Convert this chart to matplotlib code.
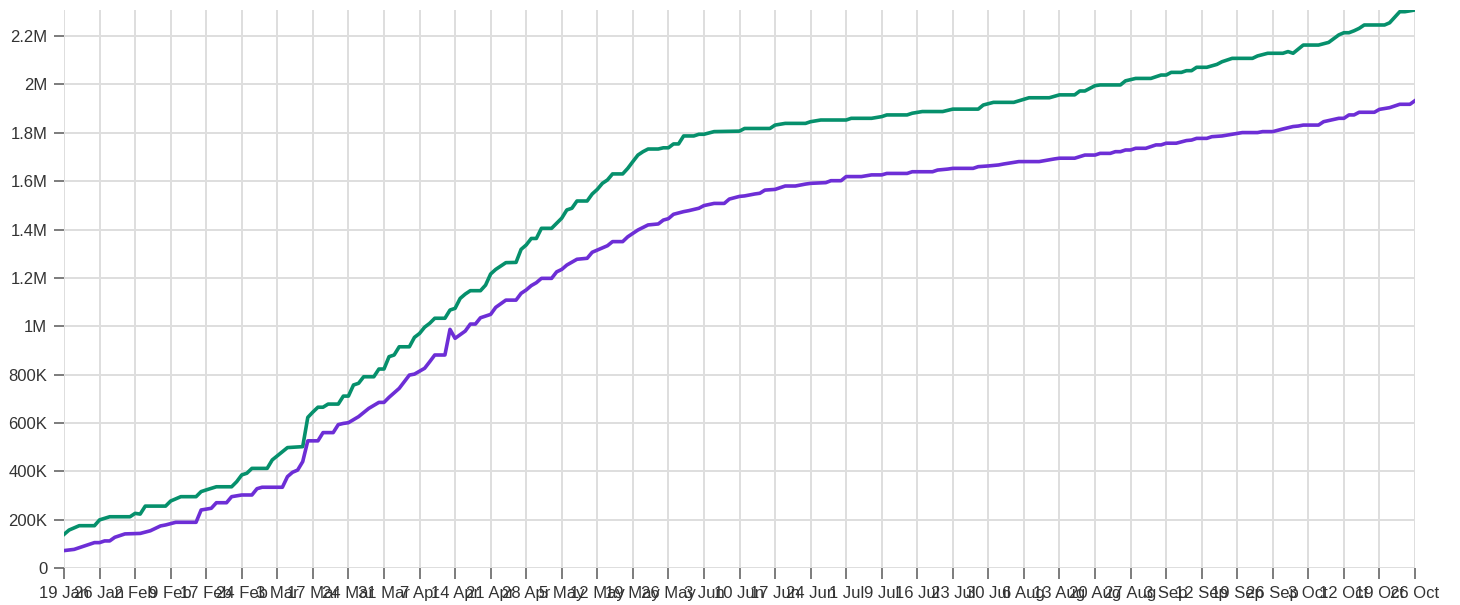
import matplotlib
matplotlib.use("Agg")
import matplotlib.pyplot as plt
from matplotlib.ticker import FuncFormatter

# ── Datos ─────────────────────────────────────────────────────────────────────
# eje x: índice de punto (un punto por día de la serie, etiqueta cada 7 puntos)
tick_labels = [
    "19 Jan", "26 Jan", "2 Feb", "9 Feb", "17 Feb", "24 Feb", "3 Mar",
    "17 Mar", "24 Mar", "31 Mar", "7 Apr", "14 Apr", "21 Apr", "28 Apr",
    "5 May", "12 May", "19 May", "26 May", "3 Jun", "10 Jun", "17 Jun",
    "24 Jun", "1 Jul", "9 Jul", "16 Jul", "23 Jul", "30 Jul", "6 Aug",
    "13 Aug", "20 Aug", "27 Aug", "3 Sep", "12 Sep", "19 Sep", "26 Sep",
    "3 Oct", "12 Oct", "19 Oct", "26 Oct",
]

# serie verde (miles)
verde_x = [0, 1, 3, 6, 7, 9, 13, 14, 15, 16, 20, 21, 23, 26, 27, 28, 30, 33,
           34, 35, 36, 37, 40, 41, 43, 44, 47, 48, 49, 50, 51, 52, 54, 55, 56,
           57, 58, 59, 61, 62, 63, 64, 65, 66, 68, 69, 70, 71, 72, 73, 75, 76,
           77, 78, 79, 80, 82, 83, 84, 85, 87, 89, 90, 91, 92, 93, 94, 96, 97,
           98, 99, 100, 101, 103, 104, 105, 106, 107, 108, 110, 111, 112, 113,
           114, 115, 117, 118, 119, 120, 121, 122, 124, 125, 126, 128, 133,
           134, 139, 140, 142, 146, 147, 149, 154, 155, 159, 161, 162, 166,
           167, 169, 173, 175, 180, 181, 183, 187, 190, 194, 196, 199, 200,
           201, 203, 204, 208, 209, 211, 214, 216, 217, 218, 220, 221, 222,
           223, 225, 227, 228, 230, 234, 235, 237, 240, 241, 242, 244, 247,
           249, 251, 252, 253, 254, 255, 256, 260, 261, 263, 264, 266]
verde_y = [139, 157, 175, 175, 199, 212, 212, 226, 223, 256, 256, 277, 295,
           295, 316, 323, 336, 336, 357, 385, 392, 412, 412, 447, 481, 498,
           502, 623, 645, 665, 665, 678, 678, 711, 711, 757, 764, 791, 791,
           823, 823, 874, 881, 915, 915, 954, 970, 996, 1012, 1033, 1033,
           1067, 1074, 1115, 1133, 1147, 1147, 1170, 1216, 1235, 1263, 1264,
           1318, 1336, 1363, 1363, 1405, 1405, 1426, 1447, 1481, 1488, 1518,
           1518, 1547, 1566, 1591, 1605, 1630, 1630, 1653, 1681, 1708, 1722,
           1733, 1733, 1738, 1738, 1754, 1754, 1787, 1787, 1794, 1794, 1805,
           1807, 1818, 1818, 1832, 1839, 1839, 1846, 1853, 1853, 1860, 1860,
           1867, 1874, 1874, 1881, 1888, 1888, 1898, 1898, 1915, 1926, 1926,
           1945, 1945, 1957, 1957, 1973, 1973, 1995, 1998, 1998, 2015, 2025,
           2025, 2039, 2039, 2050, 2050, 2057, 2057, 2071, 2071, 2083, 2094,
           2108, 2108, 2118, 2129, 2129, 2136, 2129, 2163, 2163, 2174, 2205,
           2214, 2214, 2222, 2232, 2246, 2246, 2255, 2301, 2301, 2308]

# serie morada (miles)
morada_x = [0, 2, 4, 6, 7, 8, 9, 10, 12, 15, 17, 19, 20, 22, 26, 27, 29, 30,
            32, 33, 35, 37, 38, 39, 43, 44, 45, 46, 47, 48, 50, 51, 53, 54, 55,
            56, 58, 60, 62, 63, 64, 66, 68, 69, 71, 72, 73, 75, 76, 77, 79, 80,
            81, 82, 84, 85, 87, 89, 90, 91, 92, 93, 94, 96, 97, 98, 99, 101,
            103, 104, 105, 107, 108, 110, 111, 112, 113, 115, 117, 118, 119,
            120, 122, 123, 125, 126, 128, 130, 131, 133, 134, 136, 137, 138,
            140, 142, 144, 146, 147, 150, 151, 153, 154, 157, 159, 161, 162,
            166, 167, 171, 172, 174, 175, 179, 180, 182, 184, 185, 188, 192,
            195, 196, 199, 201, 203, 204, 206, 207, 208, 209, 210, 211, 213,
            215, 216, 217, 219, 221, 222, 223, 225, 226, 228, 230, 232, 235,
            236, 238, 240, 242, 243, 244, 247, 248, 251, 252, 253, 254, 255,
            258, 259, 261, 263, 265, 266]
morada_y = [72, 77, 91, 105, 105, 112, 112, 127, 141, 143, 154, 174, 178, 189,
            189, 240, 247, 270, 270, 295, 302, 302, 328, 334, 334, 378, 396,
            405, 440, 526, 526, 560, 560, 593, 598, 601, 626, 660, 685, 685,
            706, 743, 798, 802, 826, 853, 881, 881, 987, 950, 980, 1009, 1009,
            1035, 1049, 1078, 1108, 1108, 1136, 1150, 1168, 1180, 1198, 1198,
            1225, 1235, 1253, 1277, 1281, 1306, 1315, 1333, 1350, 1350, 1370,
            1384, 1398, 1419, 1423, 1439, 1445, 1463, 1474, 1478, 1488, 1499,
            1508, 1508, 1526, 1537, 1539, 1547, 1550, 1563, 1566, 1580, 1580,
            1588, 1591, 1594, 1602, 1602, 1619, 1619, 1626, 1626, 1632, 1632,
            1639, 1639, 1646, 1650, 1653, 1653, 1660, 1663, 1667, 1671, 1681,
            1681, 1692, 1695, 1695, 1708, 1708, 1715, 1715, 1722, 1722, 1729,
            1729, 1736, 1736, 1750, 1750, 1757, 1757, 1768, 1770, 1777, 1777,
            1784, 1787, 1794, 1801, 1801, 1805, 1805, 1816, 1826, 1828, 1832,
            1832, 1846, 1860, 1860, 1874, 1874, 1885, 1885, 1897, 1904, 1918,
            1918, 1933]

# ── Estilo ────────────────────────────────────────────────────────────────────
COLOR_VERDE  = "#06906c"
COLOR_MORADO = "#6d2ed6"
COLOR_GRID   = "#dedede"
COLOR_TEXTO  = "#333333"
LW = 2.6

plt.rcParams["font.family"] = ["Liberation Sans", "DejaVu Sans"]

fig = plt.figure(figsize=(14.6, 6.05), dpi=100)
ax = fig.add_axes([64 / 1460, 37 / 605, 1351 / 1460, 558 / 605])

ax.plot(verde_x, [v * 1000 for v in verde_y], color=COLOR_VERDE, lw=LW,
        solid_joinstyle="round", zorder=3)
ax.plot(morada_x, [v * 1000 for v in morada_y], color=COLOR_MORADO, lw=LW,
        solid_joinstyle="round", zorder=3)

n = 7 * (len(tick_labels) - 1)
ax.set_xlim(0, n)
ax.set_ylim(0, max(verde_y) * 1000)

ax.set_xticks(range(0, n + 1, 7))
ax.set_xticklabels(tick_labels)
ax.set_yticks([i * 200000 for i in range(12)])


def fmt_y(v, pos):
    if v == 0:
        return "0"
    if v >= 1e6:
        return f"{v / 1e6:g}M"
    return f"{v / 1e3:g}K"


ax.yaxis.set_major_formatter(FuncFormatter(fmt_y))

ax.grid(True, color=COLOR_GRID, lw=1.4, zorder=0)
ax.set_axisbelow(True)
for s in ax.spines.values():
    s.set_visible(False)

ax.tick_params(axis="both", colors="#666666", labelcolor=COLOR_TEXTO,
               labelsize=12, width=1.2)
ax.tick_params(axis="x", length=8, pad=5)
ax.tick_params(axis="y", length=7, pad=5)

fig.savefig("out.png", dpi=100, facecolor="white")
